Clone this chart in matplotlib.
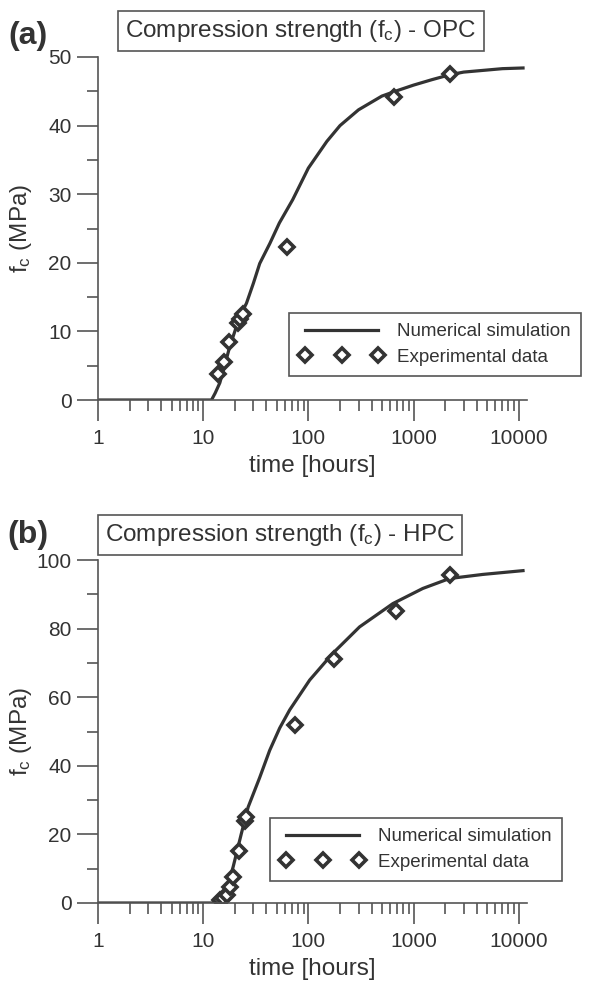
import numpy as np
import matplotlib
matplotlib.use("Agg")
import matplotlib.pyplot as plt
from matplotlib.ticker import FixedLocator, MultipleLocator, LogLocator, NullFormatter

plt.rcParams['font.family'] = ['Liberation Sans', 'DejaVu Sans']
plt.rcParams['mathtext.fontset'] = 'custom'
plt.rcParams['mathtext.rm'] = 'Liberation Sans'
plt.rcParams['mathtext.it'] = 'Liberation Sans'

# OPC - numerical simulation
opc_sim_t = [1, 12, 13, 14.4, 16, 17.9, 20, 22, 25.8, 30, 34.5, 43, 53, 71, 100, 150,
             200, 300, 500, 700, 1000, 1500, 2200, 3000, 5000, 7000, 11000]
opc_sim_f = [0, 0, 1, 2.5, 5, 7.8, 10, 12, 14.1, 17, 19.9, 22.8, 25.8, 29.2, 33.8, 37.7,
             40, 42.3, 44.3, 45.1, 45.9, 46.7, 47.4, 47.8, 48.1, 48.3, 48.4]
# OPC - experimental data
opc_exp_t = [13.9, 15.9, 17.7, 21.5, 22.5, 24, 62, 650, 2200]
opc_exp_f = [3.8, 5.5, 8.4, 11.2, 11.8, 12.6, 22.3, 44.1, 47.5]

# HPC - numerical simulation
hpc_sim_t = [1, 13.8, 15, 16.7, 19.3, 23.1, 26.8, 34.4, 42.9, 53.4, 66.5, 103, 171,
             307, 637, 1225, 2200, 4575, 11000]
hpc_sim_f = [0, 0, 1.2, 3.8, 10.6, 20.3, 28, 36.5, 44.5, 51, 56.3, 65, 72.8,
             80.5, 87.3, 91.7, 94.6, 95.8, 96.9]
# HPC - experimental data
hpc_exp_t = [14.4, 15.5, 16.7, 17.9, 19.3, 21.8, 25, 25.5, 74, 174, 687, 2203]
hpc_exp_f = [0.9, 1.5, 2.3, 4.6, 7.5, 15.2, 23.8, 25, 51.8, 71, 85, 95.5]

x_ticks = [1, 10, 100, 1000, 10000]
x_ticklabels = ['1', '10', '100', '1000', '10000']

dark = '#333333'
axcol = '#555555'

W, H = 592, 982
fig = plt.figure(figsize=(W / 100, H / 100), dpi=100)


def px(x0, y0, x1, y1):
    # pixel box (top-left origin) -> figure fraction rect
    return [x0 / W, 1 - y1 / H, (x1 - x0) / W, (y1 - y0) / H]


def panel(rect, sim_t, sim_f, exp_t, exp_f, ymax, ymaj, ymin, title, title_xy,
          tag, tag_xy, leg_xy):
    ax = fig.add_axes(rect)
    ax.plot(sim_t, sim_f, color=dark, lw=2.3, label='Numerical simulation')
    ax.plot(exp_t, exp_f, ls='none', marker='D', ms=7.5, mfc='white', mec=dark,
            mew=2.6, label='Experimental data')
    ax.set_xscale('log')
    ax.set_xlim(1, 12000)
    ax.set_ylim(0, ymax)
    ax.xaxis.set_major_locator(FixedLocator(x_ticks))
    ax.set_xticklabels(x_ticklabels)
    ax.xaxis.set_minor_locator(LogLocator(base=10, subs=np.arange(2, 10)))
    ax.xaxis.set_minor_formatter(NullFormatter())
    ax.yaxis.set_major_locator(MultipleLocator(ymaj))
    ax.yaxis.set_minor_locator(MultipleLocator(ymin))
    for s in ['top', 'right']:
        ax.spines[s].set_visible(False)
    for s in ['left', 'bottom']:
        ax.spines[s].set_color(axcol)
        ax.spines[s].set_linewidth(1.2)
    ax.tick_params(which='major', direction='out', length=15, width=1.2, color=axcol,
                   labelsize=15, labelcolor=dark)
    ax.tick_params(which='minor', direction='out', length=8, width=1.2, color=axcol)
    ax.tick_params(axis='x', which='major', pad=6)
    ax.tick_params(axis='y', which='major', pad=4)
    ax.set_xlabel('time [hours]', fontsize=17.5, color=dark, labelpad=5)
    ax.set_ylabel('f$_\\mathregular{c}$ (MPa)', fontsize=17.5, color=dark)
    ax.yaxis.set_label_coords(-0.15, 0.5)
    leg = ax.legend(loc='upper left', bbox_to_anchor=(leg_xy[0] / W, 1 - leg_xy[1] / H),
                    bbox_transform=fig.transFigure, fontsize=13.5, numpoints=3,
                    handlelength=4.5, handletextpad=0.7, borderpad=0.55,
                    labelspacing=0.45, fancybox=False, framealpha=1,
                    borderaxespad=0, labelcolor=dark)
    leg.get_frame().set_edgecolor(axcol)
    leg.get_frame().set_linewidth(1.2)
    fig.text(title_xy[0] / W, 1 - title_xy[1] / H, title, fontsize=17.5, color=dark,
             ha='center', va='center',
             bbox=dict(boxstyle='square,pad=0.3', fc='white', ec=axcol, lw=1.2))
    fig.text(tag_xy[0] / W, 1 - tag_xy[1] / H, tag, fontsize=23, fontweight='bold',
             color=dark, ha='center', va='center')
    return ax


panel(px(98, 57, 527, 400), opc_sim_t, opc_sim_f, opc_exp_t, opc_exp_f,
      50, 10, 5, 'Compression strength (f$_\\mathregular{c}$) - OPC', (301, 31),
      '(a)', (28, 36), (289, 313))
panel(px(98, 560, 527, 903), hpc_sim_t, hpc_sim_f, hpc_exp_t, hpc_exp_f,
      100, 20, 10, 'Compression strength (f$_\\mathregular{c}$) - HPC', (280, 535),
      '(b)', (28, 535), (270, 818))

fig.savefig('out.png', dpi=100)
